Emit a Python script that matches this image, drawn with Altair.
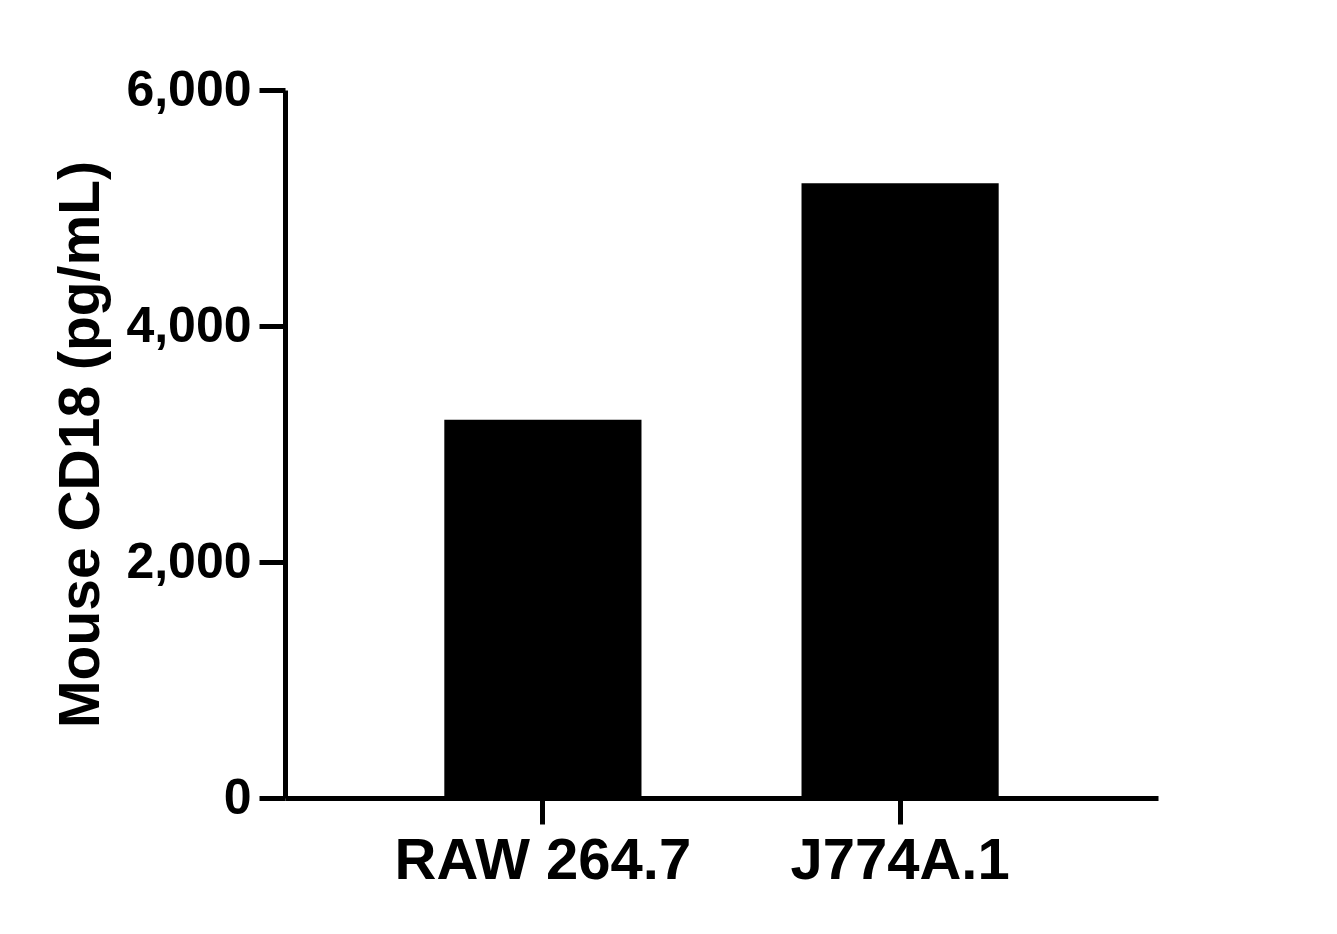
import altair as alt
import pandas as pd

categories = ["RAW 264.7", "J774A.1"]
values = [3205, 5210]
y_ticks = [0, 2000, 4000, 6000]

df = pd.DataFrame({"cell": categories, "value": values})

FONT = "Liberation Sans"

chart = alt.Chart(df).mark_bar(color="black").encode(
    x=alt.X(
        "cell:N",
        sort=categories,
        scale=alt.Scale(paddingInner=0.448, paddingOuter=0.446),
        axis=alt.Axis(
            title=None,
            labelAngle=0,
            labelFont=FONT,
            labelFontWeight="bold",
            labelFontSize=58,
            labelColor="black",
            labelPadding=8,
            labelLimit=600,
            domainColor="black",
            domainWidth=5,
            tickColor="black",
            tickWidth=5,
            tickSize=26,
        ),
    ),
    y=alt.Y(
        "value:Q",
        scale=alt.Scale(domain=[0, 6000], nice=False),
        axis=alt.Axis(
            title="Mouse CD18 (pg/mL)",
            values=y_ticks,
            format=",.0f",
            grid=False,
            labelFont=FONT,
            labelFontWeight="bold",
            labelFontSize=50,
            labelColor="black",
            labelPadding=8,
            labelLimit=400,
            domainColor="black",
            domainWidth=5,
            tickColor="black",
            tickWidth=5,
            tickSize=26,
            titleFont=FONT,
            titleFontWeight="bold",
            titleFontSize=57,
            titleColor="black",
            titleX=-204,
            titleY=354,
            titleAngle=-90,
            titleAlign="center",
            titleBaseline="middle",
        ),
    ),
).properties(
    width=873,
    height=708,
    autosize=alt.AutoSizeParams(type="none"),
    padding={"left": 277, "top": 82, "right": 170, "bottom": 120},
).configure_view(stroke=None)

chart.save("out.html", embed_options={"renderer": "svg", "actions": False})
